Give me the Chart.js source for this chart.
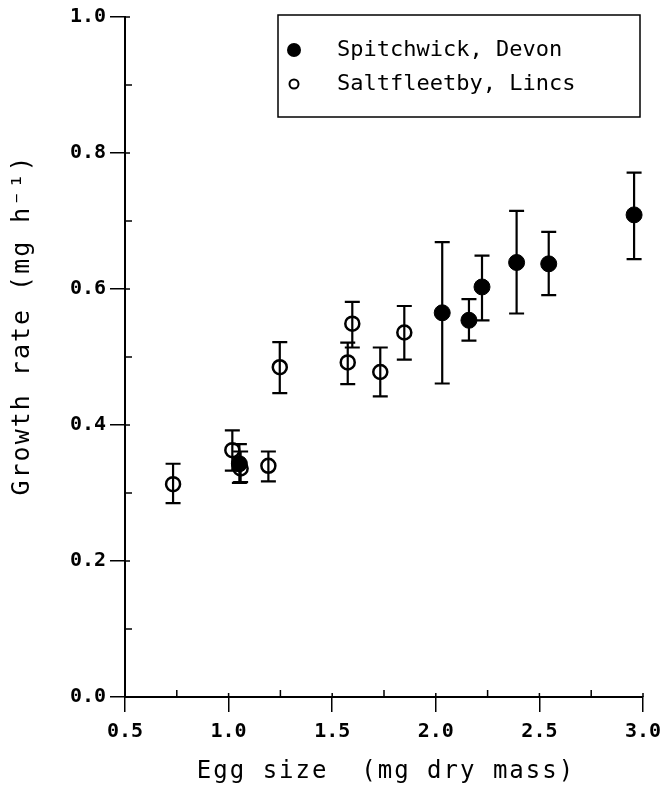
<!DOCTYPE html>
<html lang="en">
<head>
    <meta charset="UTF-8">
    <title>Growth rate vs egg size</title>
    <style>
        body {
    margin: 0;
    padding: 0;
    background: #ffffff;
}

.chart-container {
    position: relative;
    width: 660px;
    height: 800px;
}
    </style>
    <script src="https://cdn.jsdelivr.net/npm/chart.js"></script>
</head>
<body>
    <div class="chart-container">
        <canvas id="growthChart"></canvas>
    </div>

    <script>
        // Spitchwick, Devon (filled)
        const eggSpitch = [1.052, 2.031, 2.160, 2.223, 2.390, 2.545, 2.957];
        const rateSpitch = [0.343, 0.565, 0.554, 0.603, 0.639, 0.637, 0.709];
        const hiSpitch = [0.372, 0.669, 0.585, 0.649, 0.715, 0.684, 0.771];
        const loSpitch = [0.315, 0.461, 0.524, 0.554, 0.564, 0.591, 0.644];

        // Saltfleetby, Lincs (open)
        const eggSalt = [0.732, 1.018, 1.058, 1.192, 1.247, 1.575, 1.597, 1.732, 1.848];
        const rateSalt = [0.313, 0.363, 0.336, 0.340, 0.485, 0.492, 0.549, 0.478, 0.536];
        const hiSalt = [0.343, 0.392, 0.361, 0.361, 0.522, 0.521, 0.581, 0.514, 0.575];
        const loSalt = [0.285, 0.333, 0.316, 0.317, 0.447, 0.460, 0.514, 0.442, 0.496];

        // ticks
        const xMajor = [0.5, 1.0, 1.5, 2.0, 2.5, 3.0];
        const xMinor = [0.75, 1.25, 1.75, 2.25, 2.75];
        const yMajor = [0.0, 0.2, 0.4, 0.6, 0.8, 1.0];
        const yMinor = [0.1, 0.3, 0.5, 0.7, 0.9];

        const xTitle = 'Egg size  (mg dry mass)';
        const yTitle = 'Growth rate (mg h\u207B\u00B9)';

        const mono = "'DejaVu Sans Mono', monospace";

        // error bars, drawn before the points so the bar shows through open circles
        const errorBars = {
            id: 'errorBars',
            beforeDatasetsDraw(chart) {
                const ctx = chart.ctx;
                const xs = chart.scales.x, ys = chart.scales.y;
                ctx.save();
                ctx.strokeStyle = '#000';
                ctx.lineWidth = 2.2;
                chart.data.datasets.forEach(ds => {
                    ds.data.forEach((p, i) => {
                        const px = xs.getPixelForValue(p.x);
                        const top = ys.getPixelForValue(ds.errHi[i]);
                        const bot = ys.getPixelForValue(ds.errLo[i]);
                        ctx.beginPath();
                        ctx.moveTo(px, top); ctx.lineTo(px, bot);
                        ctx.moveTo(px - 7.5, top); ctx.lineTo(px + 7.5, top);
                        ctx.moveTo(px - 7.5, bot); ctx.lineTo(px + 7.5, bot);
                        ctx.stroke();
                    });
                });
                ctx.restore();
            }
        };

        // inward ticks, axis titles and boxed legend
        const decorations = {
            id: 'decorations',
            afterDraw(chart) {
                const ctx = chart.ctx;
                const xs = chart.scales.x, ys = chart.scales.y;
                const area = chart.chartArea;
                ctx.save();
                ctx.strokeStyle = '#000';
                ctx.lineWidth = 1.5;
                ctx.beginPath();
                xMajor.forEach(v => {
                    const px = xs.getPixelForValue(v);
                    ctx.moveTo(px, area.bottom); ctx.lineTo(px, area.bottom - 4);
                });
                xMinor.forEach(v => {
                    const px = xs.getPixelForValue(v);
                    ctx.moveTo(px, area.bottom); ctx.lineTo(px, area.bottom - 7);
                });
                yMajor.forEach(v => {
                    const py = ys.getPixelForValue(v);
                    ctx.moveTo(area.left, py); ctx.lineTo(area.left + 5, py);
                });
                yMinor.forEach(v => {
                    const py = ys.getPixelForValue(v);
                    ctx.moveTo(area.left, py); ctx.lineTo(area.left + 7, py);
                });
                ctx.stroke();

                // axis titles
                ctx.fillStyle = '#000';
                ctx.font = '24px ' + mono;
                ctx.letterSpacing = '2px';
                ctx.textAlign = 'center';
                ctx.textBaseline = 'middle';
                ctx.fillText(xTitle, 386, 772);
                ctx.font = '25px ' + mono;
                ctx.translate(22, 325);
                ctx.rotate(-Math.PI / 2);
                ctx.fillText(yTitle, 0, 0);
                ctx.restore();

                // legend
                ctx.save();
                ctx.strokeStyle = '#000';
                ctx.lineWidth = 1.5;
                ctx.strokeRect(278, 15, 362, 102);
                ctx.font = '22px ' + mono;
                ctx.letterSpacing = '0px';
                ctx.textAlign = 'left';
                ctx.textBaseline = 'middle';
                ctx.fillStyle = '#000';
                chart.data.datasets.forEach((ds, i) => {
                    const rowY = 50 + i * 34;
                    ctx.beginPath();
                    if (ds.open) {
                        ctx.lineWidth = 2;
                        ctx.arc(294, rowY, 4.5, 0, Math.PI * 2);
                        ctx.stroke();
                    } else {
                        ctx.arc(294, rowY, 7, 0, Math.PI * 2);
                        ctx.fill();
                    }
                    ctx.fillText(ds.label, 337, rowY);
                });
                ctx.restore();
            }
        };

        const ctxGrowth = document.getElementById('growthChart').getContext('2d');
        const growthChart = new Chart(ctxGrowth, {
            type: 'scatter',
            data: {
                datasets: [{
                    label: 'Spitchwick, Devon',
                    data: eggSpitch.map((x, i) => ({ x: x, y: rateSpitch[i] })),
                    errHi: hiSpitch,
                    errLo: loSpitch,
                    open: false,
                    pointRadius: 8,
                    pointBackgroundColor: '#000',
                    pointBorderColor: '#000',
                    pointBorderWidth: 1
                }, {
                    label: 'Saltfleetby, Lincs',
                    data: eggSalt.map((x, i) => ({ x: x, y: rateSalt[i] })),
                    errHi: hiSalt,
                    errLo: loSalt,
                    open: true,
                    pointRadius: 7,
                    pointBackgroundColor: 'rgba(0,0,0,0)',
                    pointBorderColor: '#000',
                    pointBorderWidth: 2.5
                }]
            },
            options: {
                responsive: true,
                maintainAspectRatio: false,
                animation: false,
                layout: {
                    padding: { top: 17, right: 17, left: 0, bottom: 0 }
                },
                plugins: {
                    legend: { display: false },
                    tooltip: { enabled: false }
                },
                scales: {
                    x: {
                        type: 'linear',
                        min: 0.5,
                        max: 3.0,
                        afterBuildTicks: s => { s.ticks = xMajor.map(v => ({ value: v })); },
                        afterFit: s => {
                            s.height = 103;
                            s.paddingLeft = 0;
                            s.paddingRight = 0;
                        },
                        ticks: {
                            callback: v => v.toFixed(1),
                            color: '#000',
                            font: { family: mono, size: 20, weight: 'bold' },
                            padding: 8,
                            maxRotation: 0
                        },
                        grid: {
                            drawOnChartArea: false,
                            drawTicks: true,
                            tickLength: 15,
                            color: '#000',
                            lineWidth: 1.5
                        },
                        border: { display: true, color: '#000', width: 2 }
                    },
                    y: {
                        type: 'linear',
                        min: 0,
                        max: 1.0,
                        afterBuildTicks: s => { s.ticks = yMajor.map(v => ({ value: v })); },
                        afterFit: s => {
                            s.width = 125;
                            s.paddingTop = 0;
                            s.paddingBottom = 0;
                        },
                        ticks: {
                            callback: v => v.toFixed(1),
                            color: '#000',
                            font: { family: mono, size: 20, weight: 'bold' },
                            padding: 4
                        },
                        grid: {
                            drawOnChartArea: false,
                            drawTicks: true,
                            tickLength: 15,
                            color: '#000',
                            lineWidth: 1.5
                        },
                        border: { display: true, color: '#000', width: 2 }
                    }
                }
            },
            plugins: [errorBars, decorations]
        });
    </script>
</body>
</html>
